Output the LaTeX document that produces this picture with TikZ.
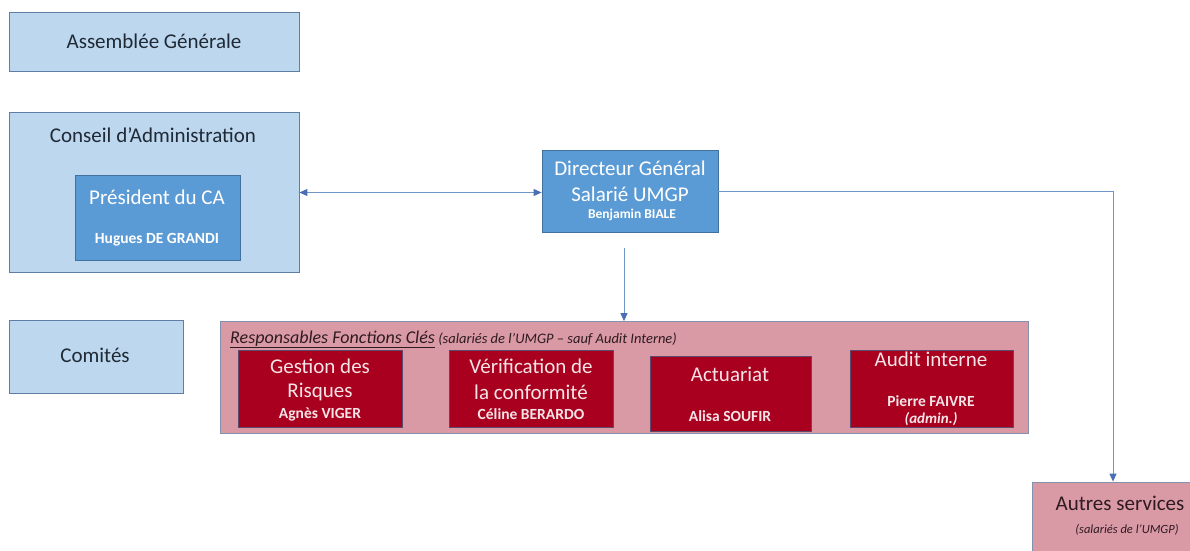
\documentclass[tikz,border=0pt]{standalone}
\usepackage{fontspec}
\setmainfont{Carlito}
\usetikzlibrary{arrows.meta}
\definecolor{lb}{HTML}{BDD7EE}
\definecolor{lbd}{HTML}{5E7FA3}
\definecolor{mb}{HTML}{5B9BD5}
\definecolor{mbd}{HTML}{41719C}
\definecolor{pk}{HTML}{D99AA6}
\definecolor{pkd}{HTML}{8392AC}
\definecolor{rd}{HTML}{A8001E}
\definecolor{rdd}{HTML}{5E4A6C}
\definecolor{wt}{HTML}{F6E4E6}
\definecolor{dk}{HTML}{1F2A36}
\definecolor{dkr}{HTML}{2E1A20}
\definecolor{ln}{HTML}{6E94C8}
\definecolor{tipc}{HTML}{4A6FB5}
\begin{document}
\begin{tikzpicture}[x=1pt,y=-1pt,
  boxbase/.style={rectangle,inner sep=0pt,line width=0.8pt},
  lbox/.style={boxbase,draw=lbd,fill=lb},
  mbox/.style={boxbase,draw=mbd,fill=mb},
  pbox/.style={boxbase,draw=pkd,fill=pk},
  rbox/.style={boxbase,draw=rdd,fill=rd},
  big/.style={font=\fontsize{21}{25}\selectfont,inner sep=0pt},
  nm/.style={font=\fontsize{15.5}{18}\selectfont\bfseries,inner sep=0pt},
  conn/.style={draw=ln,line width=0.9pt},
  tip/.style={-{Triangle[length=8pt,width=7pt,fill=tipc,color=tipc]}}
]
\useasboundingbox (0,0) rectangle (1190,550);
% boxes
\node[lbox,minimum width=290pt,minimum height=59pt] (ag) at (154,41.5) {};
\node[lbox,minimum width=290pt,minimum height=160pt] (ca) at (154,192.5) {};
\node[mbox,minimum width=165pt,minimum height=85pt] (pres) at (157.5,217.5) {};
\node[mbox,minimum width=176pt,minimum height=82pt] (dg) at (630,191) {};
\node[lbox,minimum width=174pt,minimum height=73pt] (com) at (96.5,356.5) {};
\node[pbox,minimum width=808pt,minimum height=112pt] (rfc) at (624,377.5) {};
\node[rbox,minimum width=164pt,minimum height=77pt] (gr) at (320,388.5) {};
\node[rbox,minimum width=164pt,minimum height=77pt] (vc) at (531,388.5) {};
\node[rbox,minimum width=161pt,minimum height=75pt] (act) at (730.5,393.5) {};
\node[rbox,minimum width=163pt,minimum height=77pt] (ai) at (931.5,388.5) {};
\node[pbox,minimum width=162pt,minimum height=72pt] (as) at (1113,518) {};
% texts
\node[big,text=dk] (agt) at (ag.center) {Assemblée Générale};
\node[big,text=dk] (cat) at (153,135) {Conseil d’Administration};
\node[big,text=white] (prest) at (157,197) {Président du CA};
\node[nm,text=white] (presn) at (157,240) {Hugues DE GRANDI};
\node[big,text=white] (dgt1) at (630,168) {Directeur Général};
\node[big,text=white] (dgt2) at (630,194) {Salarié UMGP};
\node[nm,text=white,font=\fontsize{13.5}{16}\selectfont\bfseries] (dgn) at (632,215) {Benjamin BIALE};
\node[big,text=dk] (comt) at (95,355) {Comités};
\node[anchor=base west,inner sep=0pt,text=dkr] (rfct) at (230,343)
  {\fontsize{18}{21}\selectfont\itshape\underline{Responsables Fonctions Clés}\fontsize{14.5}{17}\selectfont\ (salariés de l’UMGP – sauf Audit Interne)};
\node[big,text=wt] (grt1) at (320,366) {Gestion des};
\node[big,text=wt] (grt2) at (320,392) {Risques};
\node[nm,text=wt] (grn) at (320,414) {Agnès VIGER};
\node[big,text=wt] (vct1) at (531,366) {Vérification de};
\node[big,text=wt] (vct2) at (531,392) {la conformité};
\node[nm,text=wt] (vcn) at (531,414) {Céline BERARDO};
\node[big,text=wt] (actt) at (730,374) {Actuariat};
\node[nm,text=wt] (actn) at (730,416) {Alisa SOUFIR};
\node[big,text=wt] (ait) at (931,359) {Audit interne};
\node[nm,text=wt] (ain) at (931,401) {Pierre FAIVRE};
\node[nm,text=wt,font=\fontsize{15}{17}\selectfont\bfseries\itshape] (aia) at (931,419) {(admin.)};
\node[big,text=dkr] (ast) at (1120,503) {Autres services};
\node[inner sep=0pt,text=dkr,font=\fontsize{12.5}{15}\selectfont\itshape] (asn) at (1127,530) {(salariés de l’UMGP)};
% connectors
\draw[conn,{Triangle[length=8pt,width=7pt,fill=tipc,color=tipc]}-{Triangle[length=8pt,width=7pt,fill=tipc,color=tipc]}] (ca.east) -- (ca.east -| dg.west);
\draw[conn,tip,shorten <=16pt] (rfc.north |- dg.south) -- (rfc.north);
\draw[conn,tip] (dg.east) -- (as.north |- dg.east) -- (as.north);
\end{tikzpicture}
\end{document}
